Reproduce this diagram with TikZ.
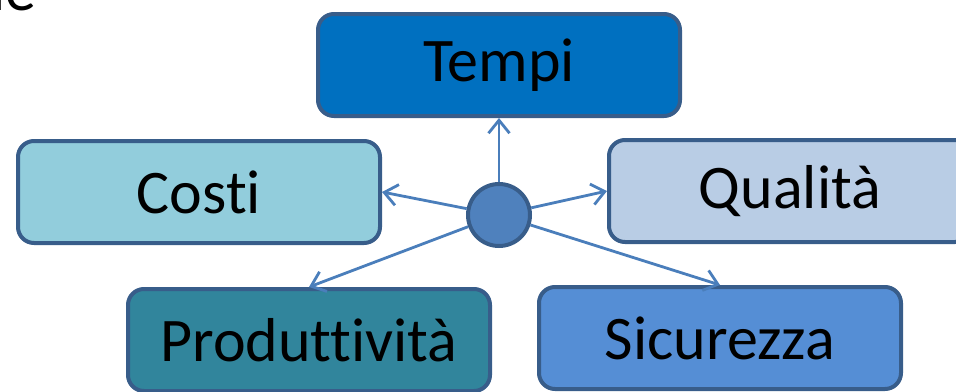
\documentclass[tikz,border=0pt]{standalone}
\usepackage{fontspec}
\setmainfont{Carlito}[Ligatures=NoCommon]
\usetikzlibrary{arrows.meta}
\definecolor{edg}{RGB}{56,93,138}
\definecolor{arx}{RGB}{74,126,187}
\definecolor{tmx}{RGB}{0,112,192}
\definecolor{cox}{RGB}{146,205,220}
\definecolor{qux}{RGB}{185,205,229}
\definecolor{prx}{RGB}{49,133,156}
\definecolor{six}{RGB}{85,142,213}
\definecolor{hbx}{RGB}{79,129,189}

\begin{document}
\begin{tikzpicture}[x=1pt,y=-1pt,
    box/.style={draw=edg, line width=4pt, rounded corners=16pt,
        minimum width=362pt, minimum height=102pt,
        font=\fontsize{62}{62}\selectfont},
    spoke/.style={draw=arx, line width=2.8pt,
        -{Straight Barb[length=13pt,width=21pt]}}
]
    \useasboundingbox (0,0) rectangle (956,391);
    \clip (0,0) rectangle (956,391);
    \node[anchor=base east, inner sep=0pt,
        font=\fontsize{62}{62}\selectfont] (frag) at (37,10) {le};
    \node[box, fill=tmx] (tempi) at (499,65) {Tempi};
    \node[box, fill=cox] (costi) at (199,192) {Costi};
    \node[box, fill=qux] (qual) at (790,191) {Qualità};
    \node[box, fill=prx] (prod) at (309,340) {Produttività};
    \node[box, fill=six] (sic) at (720,338) {Sicurezza};
    \node[circle, draw=edg, fill=hbx, line width=4pt,
        minimum size=62pt, inner sep=0pt] (hub) at (499,215) {};
    \foreach \t/\a in {tempi/south, costi/east, qual/west, prod/north, sic/north}
        \draw[spoke] (hub) -- (\t.\a);
\end{tikzpicture}
\end{document}
